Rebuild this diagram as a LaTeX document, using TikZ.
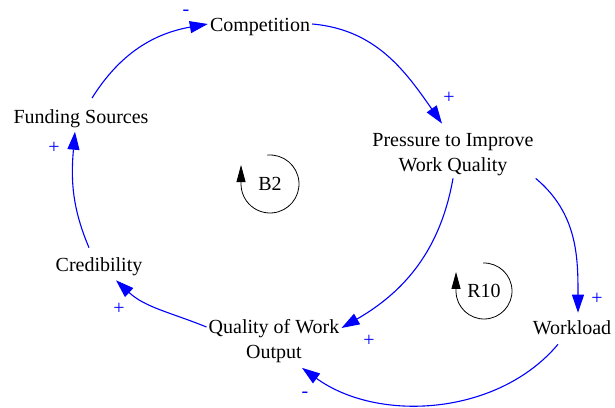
\documentclass[tikz,border=0pt]{standalone}
\usepackage{fontspec}
\setmainfont{Liberation Serif}
\usetikzlibrary{arrows.meta}
\tikzset{v/.style={align=center,inner sep=2pt,font=\fontsize{20}{25}\selectfont},
 lt/.style={inner sep=0pt,font=\fontsize{20}{25}\selectfont},
 lb/.style={text=blue,inner sep=0pt,font=\fontsize{20}{25}\selectfont},
 ar/.style={draw=blue,line width=1.1pt,-{Triangle[length=18pt,width=12pt]}},
 lp/.style={draw=black,line width=0.8pt,-{Triangle[length=17pt,width=9pt]}}}

\begin{document}
\begin{tikzpicture}[x=1pt,y=1pt]
\useasboundingbox (0,0) rectangle (615,407);
\node[v](comp) at (260,380){Competition};
\node[v](fund) at (81,288.6){Funding Sources};
\node[v](pres) at (453,252){Pressure to Improve\\Work Quality};
\node[v](cred) at (99,140){Credibility};
\node[v](qual) at (274,66){Quality of Work\\Output};
\node[v](work) at (572,79){Workload};
\node[lt](b2) at (270,223){B2};
\node[lt](r10) at (484,116){R10};
\node[lb](m1) at (186,394){-};
\node[lb](p2) at (449,309){+};
\node[lb](p3) at (597,108){+};
\node[lb](p4) at (369,66){+};
\node[lb](m5) at (305,12){-};
\node[lb](p6) at (119,98){+};
\node[lb](p7) at (54,259){+};
\draw[ar]([xshift=11pt,yshift=9pt]fund.north) to[out=58,in=190] ([yshift=3pt]comp.west);
\draw[ar]([yshift=3pt]comp.east) to[out=-5,in=125] ([xshift=-11pt,yshift=8pt]pres.north);
\draw[ar](pres.south east) to[out=-40,in=90] ([xshift=6pt,yshift=6pt]work.north);
\draw[ar](pres.south) to[out=-100,in=30] ([yshift=13pt]qual.east);
\draw[ar]([xshift=-14pt,yshift=-7pt]work.south) to[out=-130,in=-36,looseness=0.93] ([xshift=28pt,yshift=-3pt]qual.south);
\draw[ar]([yshift=14pt]qual.west) to[out=158,in=-43] ([xshift=17pt,yshift=-2pt]cred.south);
\draw[ar]([xshift=-10pt,yshift=8pt]cred.north) to[out=113,in=-95] ([xshift=-6pt,yshift=-2pt]fund.south);
\draw[lp](b2.center) ++(95:29pt) arc[start angle=95,end angle=-178,radius=29pt] -- ++(0,20pt);
\draw[lp](r10.center) ++(92:28pt) arc[start angle=92,end angle=-178,radius=28pt] -- ++(0,20pt);
\end{tikzpicture}
\end{document}
